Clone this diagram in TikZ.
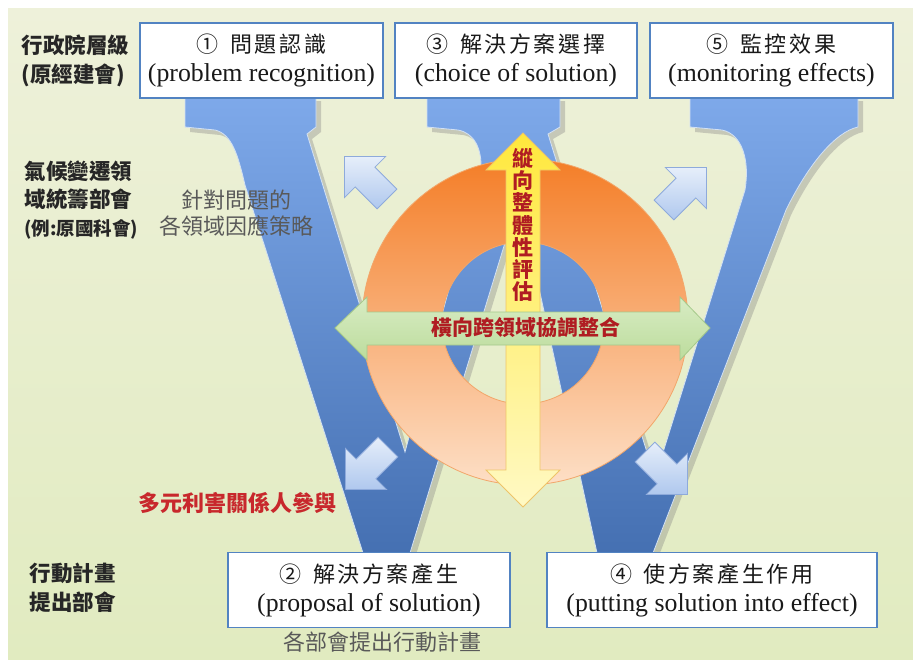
\documentclass[tikz,border=0pt]{standalone}
\usepackage{fontspec}
\setmainfont{Liberation Serif}
\newfontfamily\cjk{Noto Sans CJK TC}
\usetikzlibrary{shadows}
\definecolor{boxblue}{HTML}{5283C2}
\definecolor{rowtext}{HTML}{262626}
\definecolor{notegray}{HTML}{595959}
\definecolor{stakered}{HTML}{C8282C}
\definecolor{arrowred}{HTML}{B01C22}
\definecolor{hintedge}{HTML}{8EAADB}
\definecolor{hinttop}{HTML}{E6EEFA}
\definecolor{hintbot}{HTML}{AFC8EE}
\definecolor{bgtop}{HTML}{EEF1DA}
\definecolor{bgbot}{HTML}{E1EBC0}
\definecolor{vtop}{HTML}{7EA9EA}
\definecolor{vbot}{HTML}{4570B2}
\definecolor{vedge}{HTML}{D3E1F4}
\definecolor{ringtop}{HTML}{F47E28}
\definecolor{ringmid}{HTML}{FCCDA3}
\definecolor{ringbot}{HTML}{FDDFC6}
\definecolor{ringedge}{HTML}{F2A66A}
\definecolor{yeltop}{HTML}{FFE83C}
\definecolor{yelbot}{HTML}{FFF9C4}
\definecolor{yeledge}{HTML}{EEC468}
\definecolor{grntop}{HTML}{D8ECC4}
\definecolor{grnbot}{HTML}{BCDC9C}
\definecolor{grnedge}{HTML}{A5C98A}

\tikzset{
  stagebox/.style={draw=boxblue, line width=1.5pt, fill=white, inner sep=0pt,
    minimum height=75pt, align=center, text=black!90, font=\fontsize{25.8}{29}\selectfont},
  rowlabel/.style={anchor=west, align=left, text=rowtext, font=\cjk\bfseries\fontsize{21.5}{29}\selectfont},
  notetext/.style={align=center, text=notegray, font=\cjk\fontsize{22}{26}\selectfont},
  stakelabel/.style={text=stakered, font=\cjk\bfseries\fontsize{22}{26}\selectfont},
  arrowtext/.style={text=arrowred, align=center, font=\cjk\bfseries\fontsize{21}{22.3}\selectfont},
  vshape/.style={top color=vtop, bottom color=vbot, draw=vedge, line width=0.8pt,
    drop shadow={shadow xshift=5pt, shadow yshift=-5pt, opacity=0.35}},
  ringfill/.style={top color=ringtop, middle color=ringmid, bottom color=ringbot,
    draw=ringedge, line width=0.8pt, even odd rule},
  vertarrow/.style={top color=yeltop, bottom color=yelbot, draw=yeledge, line width=0.8pt},
  horzarrow/.style={top color=grntop, bottom color=grnbot, draw=grnedge, line width=0.8pt},
  hintarrow/.style={draw=hintedge, line width=0.8pt, top color=hinttop, bottom color=hintbot}
}
\newcommand{\zh}[1]{{\cjk\fontsize{22}{29}\addfontfeature{LetterSpace=12}#1}}
\newcommand{\flowhint}[3]{\path[hintarrow, shift={(#1,#2)}, rotate=#3]
  (0,-14) -- (31,-14) -- (31,-29) -- (60,0) -- (31,29) -- (31,14) -- (0,14) -- cycle;}

\begin{document}
\begin{tikzpicture}[x=1pt, y=-1pt]
  \useasboundingbox (0,0) rectangle (913,659);
  \fill[top color=bgtop, bottom color=bgbot] (8,8) rectangle (913,659);

  \path[vshape] (185,96) -- (316,96) -- (316,127) -- (307,134) -- (405,452) -- (481,170)
    .. controls (482,148) and (474,133) .. (458,130) -- (427,127) -- (427,96) -- (560,96)
    -- (560,127) -- (548,134) -- (655,478) -- (745,190)
    .. controls (750,160) and (742,134) .. (722,130) -- (690,127) -- (690,96) -- (858,96)
    -- (858,127) .. controls (835,132) and (808,165) .. (786,210) -- (653,553) -- (597,553)
    -- (519,197) -- (410,553) -- (363,553) -- (245,185)
    .. controls (238,155) and (232,134) .. (215,130) -- (185,127) -- cycle;

  \node[stagebox, minimum width=243pt] (recog) at (261.5,60.5) {\zh{①\, 問題認識}\\(problem recognition)};
  \node[stagebox, minimum width=242pt] (choice) at (516,60.5) {\zh{③\, 解決方案選擇}\\(choice of solution)};
  \node[stagebox, minimum width=243pt] (monitor) at (771.5,60.5) {\zh{⑤\, 監控效果}\\(monitoring effects)};
  \node[stagebox, minimum width=282pt] (proposal) at (369,590) {\zh{②\, 解決方案產生}\\(proposal of solution)};
  \node[stagebox, minimum width=330pt] (effect) at (712,590) {\zh{④\, 使方案產生作用}\\(putting solution into effect)};

  \path[ringfill] (525,322) circle[radius=163pt] (523,323) circle[radius=81pt];

  \path[vertarrow] (523,133) -- (560,170) -- (540,170) -- (540,470) -- (560,470) -- (523,507)
    -- (486,470) -- (506,470) -- (506,170) -- (486,170) -- cycle;
  \path[horzarrow] (335,328) -- (367,297) -- (367,312) -- (680,312) -- (680,297) -- (710,328)
    -- (680,360) -- (680,345) -- (367,345) -- (367,360) -- cycle;
  \node[arrowtext] (vertical) at (523,225) {縱\\向\\整\\體\\性\\評\\估};
  \node[arrowtext] (horizontal) at (526,328) {橫向跨領域協調整合};

  \flowhint{387}{199}{135}
  \flowhint{664}{210}{45}
  \flowhint{388}{447}{225}
  \flowhint{645}{452}{-45}

  \node[rowlabel] (exec) at (18,60.5) {行政院層級\\(原經建會)};
  \node[rowlabel, font=\cjk\bfseries\fontsize{21.5}{28}\selectfont] (coord) at (21,200)
    {氣候變遷領\\域統籌部會\\{\fontsize{18.5}{26}\selectfont(例:原國科會)}};
  \node[rowlabel, font=\cjk\bfseries\fontsize{21.5}{28.5}\selectfont] (ministry) at (26,588) {行動計畫\\提出部會};
  \node[notetext] (strategy) at (236,213) {針對問題的\\各領域因應策略};
  \node[stakelabel] (stake) at (237,503) {多元利害關係人參與};
  \node[notetext] (plans) at (382,642) {各部會提出行動計畫};
\end{tikzpicture}
\end{document}
